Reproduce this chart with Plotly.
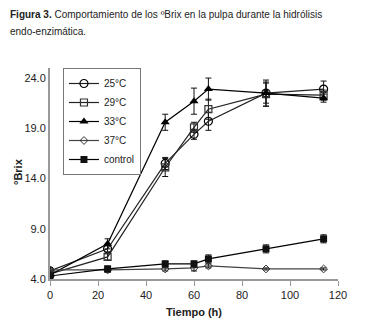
import plotly.graph_objects as go

tiempo = [0, 24, 48, 60, 66, 90, 114]

names = ["25°C", "29°C", "33°C", "37°C", "control"]
v25 = [4.8, 7.0, 15.5, 18.4, 19.7, 22.5, 22.9]
e25 = [0.3, 0.3, 0.6, 0.5, 0.9, 1.0, 0.8]
v29 = [4.5, 6.2, 15.1, 19.1, 20.9, 22.4, 22.3]
e29 = [0.2, 0.3, 0.9, 0.5, 1.0, 1.2, 0.5]
v33 = [4.4, 7.5, 19.6, 21.7, 22.9, 22.5, 22.0]
e33 = [0.5, 0.5, 0.8, 1.3, 1.1, 1.3, 0.4]
v37 = [4.9, 4.9, 5.0, 5.1, 5.3, 5.0, 5.0]
e37 = [0.2, 0.2, 0.2, 0.3, 0.2, 0.1, 0.1]
vctl = [4.3, 5.0, 5.5, 5.5, 6.0, 7.0, 8.0]
ectl = [0.2, 0.3, 0.3, 0.3, 0.4, 0.4, 0.4]

series = [
    (names[0], v25, e25, dict(symbol="circle-open", size=8, color="black", line=dict(width=1.2)), "#222"),
    (names[1], v29, e29, dict(symbol="square-open", size=7, color="#333", line=dict(width=1.2)), "#222"),
    (names[2], v33, e33, dict(symbol="triangle-up", size=8, color="black"), "black"),
    (names[3], v37, e37, dict(symbol="diamond-open", size=6, color="#333", line=dict(width=1)), "#444"),
    (names[4], vctl, ectl, dict(symbol="square", size=7, color="#111"), "black"),
]

fig = go.Figure()
for name, vals, errs, mk, lc in series:
    fig.add_trace(go.Scatter(
        x=tiempo, y=vals, name=name, mode="lines+markers",
        line=dict(color=lc, width=1.2), marker=mk,
        error_y=dict(type="data", array=errs, visible=True, color="#111", thickness=1, width=3),
    ))

# page body has an 8px default margin; compensate
OFF = 8
W, H = 366 - OFF, 331 - OFF
L, R, T, B = 50 - OFF, 28, 68 - OFF, 52
pw = W - L - R
ph = H - T - B

def px2paper(px, py):
    # px, py are positions in the final screenshot
    return (px - OFF - L) / pw, (H - B - (py - OFF)) / ph

title_font = dict(family="Liberation Sans, Arial, sans-serif", size=10, color="#222")
ax1, ay1 = px2paper(8, 15)
ax2, ay2 = px2paper(8, 31)
yx, yy = px2paper(18, 172)

fig.update_layout(
    width=W, height=H,
    margin=dict(l=L, r=R, t=T, b=B),
    paper_bgcolor="white", plot_bgcolor="white",
    font=dict(family="Liberation Sans, Arial, sans-serif", size=11, color="#222"),
    showlegend=True,
    legend=dict(x=0.045, y=1.0, xanchor="left", yanchor="top",
                bgcolor="white", bordercolor="#777", borderwidth=1,
                font=dict(size=10, color="#222"), tracegroupgap=4, itemwidth=30),
    annotations=[
        dict(text="<b>Figura 3.</b> Comportamiento de los ºBrix en la pulpa durante la hidrólisis",
             x=ax1, y=ay1, xref="paper", yref="paper", showarrow=False,
             xanchor="left", yanchor="middle", font=title_font),
        dict(text="endo-enzimática.",
             x=ax2, y=ay2, xref="paper", yref="paper", showarrow=False,
             xanchor="left", yanchor="middle", font=title_font),
        dict(text="<b>°Brix</b>", x=yx, y=yy, xref="paper", yref="paper", showarrow=False,
             xanchor="center", yanchor="middle", textangle=-90,
             font=dict(size=11, color="#222")),
    ],
)

fig.update_xaxes(range=[0, 120], tickvals=[0, 20, 40, 60, 80, 100, 120],
                 showline=True, linecolor="#999", linewidth=2, ticks="outside",
                 tickcolor="#999", ticklen=5, showgrid=False, zeroline=False,
                 automargin=False,
                 tickfont=dict(size=11, color="#222"),
                 title=dict(text="<b>Tiempo (h)</b>", font=dict(size=11, color="#222"), standoff=8))
fig.update_yaxes(range=[4, 25], tickvals=[4, 9, 14, 19, 24],
                 ticktext=["4.0", "9.0", "14.0", "19.0", "24.0"],
                 showline=True, linecolor="#999", linewidth=2, ticks="",
                 showgrid=False, zeroline=False, automargin=False,
                 tickfont=dict(size=11, color="#222"))

fig.write_html("out.html")
